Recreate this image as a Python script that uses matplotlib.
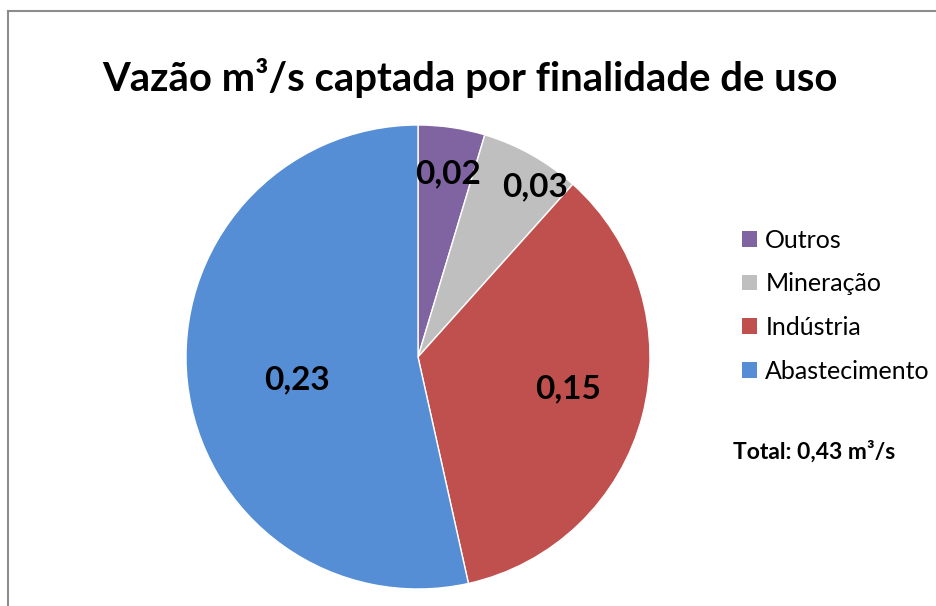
import matplotlib.pyplot as plt
from matplotlib.patches import Patch
from matplotlib.lines import Line2D
import numpy as np

categories = ['Outros', 'Mineração', 'Indústria', 'Abastecimento']
values = [0.02, 0.03, 0.15, 0.23]
labels = ['0,02', '0,03', '0,15', '0,23']
colors = ['#8064A2', '#BFBFBF', '#C0504D', '#558ED5']
# label placement inside each wedge: fraction along the arc, fraction of radius
label_frac = [0.56, 0.71, 0.48, 0.476]
label_radius = [0.80, 0.89, 0.66, 0.53]

plt.rcParams['font.family'] = ['Lato', 'DejaVu Sans']

W, H = 936, 606
fig = plt.figure(figsize=(W / 100, H / 100), dpi=100)

# frame (left and top edges visible)
fig.add_artist(Line2D([8 / W, 8 / W], [0, 1 - 11 / H], color='#8c8c8c', lw=1.5))
fig.add_artist(Line2D([8 / W, 1], [1 - 11 / H, 1 - 11 / H], color='#8c8c8c', lw=1.5))

cx, cy, r = 418, 357, 232
ax = fig.add_axes([(cx - r) / W, (H - cy - r) / H, 2 * r / W, 2 * r / H])
wedges, _ = ax.pie(values, colors=colors, startangle=90, counterclock=False,
                   wedgeprops=dict(edgecolor='white', linewidth=1))
ax.set_xlim(-1, 1)
ax.set_ylim(-1, 1)
ax.set_aspect('equal')

for w, lab, f, rr in zip(wedges, labels, label_frac, label_radius):
    # clockwise wedges: theta2 is the start, theta1 the end
    ang = np.deg2rad(w.theta2 - f * (w.theta2 - w.theta1))
    ax.text(rr * np.cos(ang), rr * np.sin(ang), lab, ha='center', va='center',
            fontsize=24, fontweight='bold', color='black')

fig.text(470 / W, 1 - 78 / H, 'Vazão m³/s captada por finalidade de uso',
         ha='center', va='center', fontsize=28.8, fontweight='bold')

handles = [Patch(facecolor=c, edgecolor='none') for c in colors]
fig.legend(handles, categories, loc='upper left', bbox_to_anchor=(729 / W, 1 - 216 / H),
           frameon=False, fontsize=18, handlelength=0.6, handleheight=0.6,
           handletextpad=0.35, labelspacing=0.83, borderpad=0)

fig.text(814 / W, 1 - 452 / H, 'Total: 0,43 m³/s', ha='center', va='center',
         fontsize=16.5, fontweight='bold')

fig.savefig('out.png', dpi=100, facecolor='white')
